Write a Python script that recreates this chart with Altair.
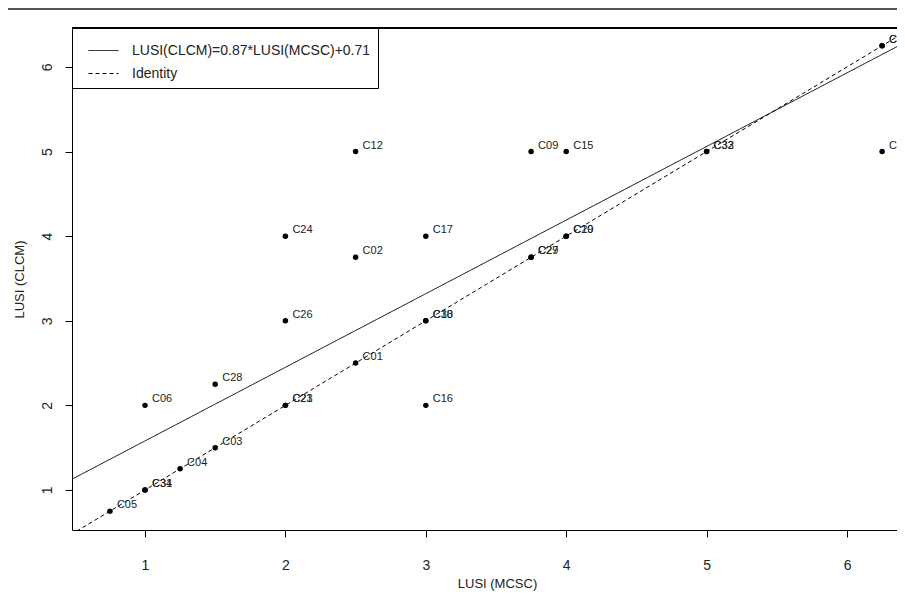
import altair as alt
import pandas as pd

# Points
names = ["C05", "C31", "C34", "C04", "C03", "C06", "C28", "C21", "C23", "C26",
         "C24", "C12", "C02", "C01", "C17", "C18", "C30", "C16", "C09", "C15",
         "C27", "C29", "C19", "C20", "C32", "C33", "C08", "C11", "C07"]
mcsc = [0.75, 1.0, 1.0, 1.25, 1.5, 1.0, 1.5, 2.0, 2.0, 2.0,
        2.0, 2.5, 2.5, 2.5, 3.0, 3.0, 3.0, 3.0, 3.75, 4.0,
        3.75, 3.75, 4.0, 4.0, 5.0, 5.0, 6.25, 6.25, 6.25]
clcm = [0.75, 1.0, 1.0, 1.25, 1.5, 2.0, 2.25, 2.0, 2.0, 3.0,
        4.0, 5.0, 3.75, 2.5, 4.0, 3.0, 3.0, 2.0, 5.0, 5.0,
        3.75, 3.75, 4.0, 4.0, 5.0, 5.0, 6.25, 6.25, 5.0]

# Fitted line and identity
slope = 0.87
intercept = 0.71
reg_label = "LUSI(CLCM)=0.87*LUSI(MCSC)+0.71"
id_label = "Identity"
line_x = [0.0, 8.0]

X_DOMAIN = [0.48, 6.356]
Y_DOMAIN = [0.527, 6.46]
W, H = 825, 502

pts = pd.DataFrame({"name": names, "x": mcsc, "y": clcm})
lines = pd.DataFrame({
    "x": line_x + line_x,
    "y": [slope * v + intercept for v in line_x] + line_x,
    "series": [reg_label] * 2 + [id_label] * 2,
})

xs = alt.Scale(domain=X_DOMAIN, nice=False, zero=False)
ys = alt.Scale(domain=Y_DOMAIN, nice=False, zero=False)

xaxis = alt.Axis(values=[1, 2, 3, 4, 5, 6], title="LUSI (MCSC)", grid=False,
                 tickSize=7, labelPadding=21, titlePadding=5, format="d",
                 titleX=425)
yaxis = alt.Axis(values=[1, 2, 3, 4, 5, 6], title="LUSI (CLCM)", grid=False,
                 tickSize=7, labelAngle=270, labelAlign="center",
                 labelBaseline="bottom", labelPadding=11, titlePadding=14, format="d")

line_layer = alt.Chart(lines).mark_line(color="black", strokeWidth=1, clip=True).encode(
    x=alt.X("x:Q", scale=xs, axis=xaxis),
    y=alt.Y("y:Q", scale=ys, axis=yaxis),
    strokeDash=alt.StrokeDash("series:N",
                              scale=alt.Scale(domain=[reg_label, id_label],
                                              range=[[1, 0], [4, 3]]),
                              legend=alt.Legend(title=None, orient="top-left")),
    detail="series:N",
)

point_layer = alt.Chart(pts).mark_circle(size=30, color="black", opacity=1).encode(
    x=alt.X("x:Q", scale=xs),
    y=alt.Y("y:Q", scale=ys),
)

text_layer = alt.Chart(pts).mark_text(
    align="left", baseline="middle", dx=7, dy=-6, fontSize=11,
    font="Liberation Sans", color="#222"
).encode(
    x=alt.X("x:Q", scale=xs),
    y=alt.Y("y:Q", scale=ys),
    text="name:N",
)

top_rule = alt.Chart(pts).mark_rule(color="black", strokeWidth=1).encode(
    x=alt.value(0), x2=alt.value(W), y=alt.value(0)
)
page_rule = alt.Chart(pts).mark_rule(color="#555", strokeWidth=2).encode(
    x=alt.value(-64), x2=alt.value(W), y=alt.value(-19)
)

chart = alt.layer(line_layer, point_layer, text_layer, top_rule, page_rule).properties(
    width=W, height=H,
    padding={"left": 64, "top": 20, "right": 0, "bottom": 64},
    autosize="none",
).configure_view(stroke=None).configure_axis(
    domainColor="black", tickColor="black", labelColor="#222", titleColor="#222",
    labelFont="Liberation Sans", titleFont="Liberation Sans",
    labelFontSize=14, titleFontSize=13, titleFontWeight="normal",
).configure_legend(
    offset=0, padding=7, strokeColor="black", fillColor="white", cornerRadius=0,
    labelFont="Liberation Sans", labelFontSize=14, labelColor="#222",
    symbolType="stroke", symbolSize=900, symbolStrokeWidth=1, symbolOffset=9,
    symbolStrokeColor="black", labelOffset=13, rowPadding=-5, labelLimit=400,
)

chart.save("out.html", embed_options={"renderer": "svg", "actions": False})
